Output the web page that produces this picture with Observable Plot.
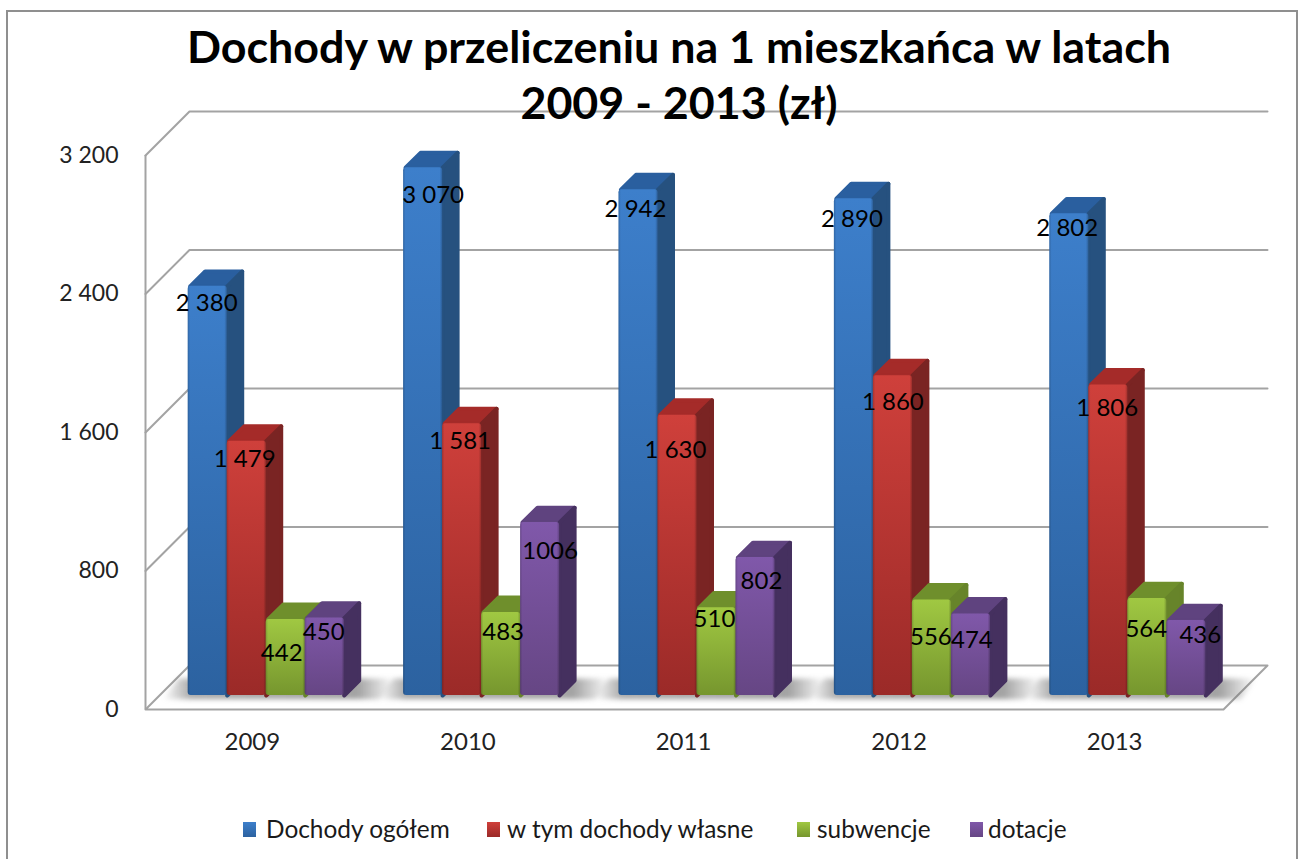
<!DOCTYPE html>
<html lang="pl"><head><meta charset="utf-8">
<script src="https://cdn.jsdelivr.net/npm/d3@7"></script>
<script src="https://cdn.jsdelivr.net/npm/@observablehq/plot@0.6"></script>
<style>
html,body{margin:0;padding:0;background:#fff;overflow:hidden;width:1298px;height:859px}
#wrap{position:relative;width:1298px;height:859px;overflow:hidden;font-family:Lato,sans-serif}
#wrap svg{position:absolute;left:0;top:0;background:transparent}
#border{position:absolute;left:6px;top:10px;width:1288px;height:900px;border:2px solid #8f8f8f}
#title{position:absolute;left:0;top:18px;width:1358px;text-align:center;font-weight:700;font-size:44.8px;line-height:56px;color:#000}
.lg{position:absolute;top:814px;font-size:24.4px;line-height:30px;color:#1a1a1a;white-space:nowrap}
.sw{position:absolute;top:822px;width:13px;height:15px}
</style></head><body>
<div id="wrap">
<div id="border"></div>
<div id="plot"></div>
<div id="title">Dochody w przeliczeniu na 1 mieszkańca w latach<br>2009 - 2013 (zł)</div>
<div id="legend"></div>
</div>
<script>
const years = [2009, 2010, 2011, 2012, 2013];
const seriesNames = ["Dochody ogółem", "w tym dochody własne", "subwencje", "dotacje"];
const total = [2380, 3070, 2942, 2890, 2802];
const own = [1479, 1581, 1630, 1860, 1806];
const subsidy = [442, 483, 510, 556, 564];
const grants = [450, 1006, 802, 474, 436];
const seriesValues = [total, own, subsidy, grants];
const yTicks = [0, 800, 1600, 2400, 3200];

// The labels were moved by hand in the original: nudges from the default spot (pixels).
const labelDown = [[17,28,20,21,15],[18,18,35,27,24],[34,20,12,38,31],[14,29,24,26,15]];
const labelRight = [[-1,10,-3,-2,-2],[-2,-2,-2,0,-1],[-4,2,-2,-1,-1],[-1,10,6,1,14]];

const groupStep = 5.523, groupStart = 1.095;   // in bar widths
const xMax = 28.77, wallX = 1.128, wallY = 254;  // oblique depth of the walls
const depthX = 0.385, depthY = 86;               // oblique depth of one bar
const baseY = 81, barK = 0.993;
const pxX = 39, pxY = 0.1731;
const fmt = d3.formatLocale({thousands:" ", grouping:[3], decimal:","}).format(",d");

const faces = [
  {front:"gBlue", side:"#26517f", top:"#2a5f9f"},
  {front:"gRed", side:"#7a2423", top:"#a52b29"},
  {front:"gGreen", side:"#67842a", top:"#6f8f2c"},
  {front:"gPurple", side:"#45305f", top:"#5f437f"}
];
const stops = {
  gBlue:["#3d7fcb","#2c62a0"], gRed:["#cf403b","#9b2a28"],
  gGreen:["#a0c842","#76962e"], gPurple:["#8058aa","#664684"]
};

function defsMark(){
  const g = d3.create("svg:g"), defs = g.append("defs");
  for (const [id,[a,b]] of Object.entries(stops)) {
    const lg = defs.append("linearGradient").attr("id",id).attr("x1",0).attr("x2",0).attr("y1",0).attr("y2",1);
    lg.append("stop").attr("offset",0).attr("stop-color",a);
    lg.append("stop").attr("offset",1).attr("stop-color",b);
  }
  const e = defs.append("linearGradient").attr("id","gEdge");
  [[0,0.18],[0.06,0],[0.94,0],[1,0.22]].forEach(([o,k]) =>
    e.append("stop").attr("offset",o).attr("stop-color","#000").attr("stop-opacity",k));
  const s = defs.append("linearGradient").attr("id","gShadow");
  [[0,0],[0.12,0.55],[0.84,0.6],[1,0]].forEach(([o,k]) =>
    s.append("stop").attr("offset",o).attr("stop-color","#666").attr("stop-opacity",k));
  return g.node();
}

const rows = years.flatMap((year,yi) => seriesValues.map((vals,si) => {
  const x0 = groupStart + groupStep*yi + si, v = vals[yi];
  return {year,yi,si,v,x0,x1:x0+1,top:baseY+v*barK,
    label: si===3 ? String(v) : fmt(v),
    lx: x0+0.5+labelRight[si][yi]/pxX,
    ly: baseY+v*0.994-labelDown[si][yi]/pxY};
}));

const wallPts = yTicks.flatMap(v => v===0
  ? [[0,0],[wallX,wallY],[xMax,wallY],[xMax-wallX,0],[0,0]].map(([x,y]) => ({level:v,x,y}))
  : [[0,v],[wallX,v+wallY],[xMax,v+wallY]].map(([x,y]) => ({level:v,x,y})));

const shadows = years.flatMap((year,yi) => {
  const a = groupStart+groupStep*yi-0.65, b = a+5.55;
  return [[a,baseY-22],[b,baseY-22],[b+0.4,baseY+98],[a+0.4,baseY+98]].map(([x,y]) => ({yi,x,y}));
});

const barMarks = rows.flatMap(r => {
  const f = faces[r.si];
  const top = [[r.x0+0.05,r.top],[r.x1,r.top],[r.x1+depthX,r.top+depthY],[r.x0+depthX+0.05,r.top+depthY],[r.x0+0.05,r.top]];
  const side = [[r.x1,baseY],[r.x1+depthX,baseY+depthY],[r.x1+depthX,r.top+depthY],[r.x1,r.top],[r.x1,baseY]];
  const poly = (pts,c) => Plot.line(pts,{x:"0",y:"1",fill:c,stroke:c,strokeWidth:4,strokeLinejoin:"round"});
  return [
    poly(top,f.top), poly(side,f.side),
    Plot.rect([r],{x1:"x0",x2:"x1",y1:()=>baseY,y2:"top",fill:"url(#"+f.front+")",rx:3}),
    Plot.rect([r],{x1:"x0",x2:"x1",y1:()=>baseY,y2:"top",fill:"url(#gEdge)",rx:3})
  ];
});

const chart = Plot.plot({
  width:1298, height:859,
  marginLeft:145, marginRight:31, marginTop:155, marginBottom:150,
  x:{domain:[0,xMax], axis:null},
  y:{domain:[0,3200], axis:null},
  style:{fontFamily:"Lato, sans-serif", background:"transparent", overflow:"visible"},
  marks:[
    defsMark,
    Plot.axisY({ticks:yTicks, tickFormat:fmt, tickSize:0, tickPadding:27, label:null, fontSize:23, fill:"#222"}),
    Plot.line(wallPts,{x:"x",y:"y",z:"level",stroke:"#a3a3a3",strokeWidth:2}),
    Plot.ruleX([0],{y1:0,y2:3200,stroke:"#a3a3a3",strokeWidth:2}),
    Plot.line(shadows,{x:"x",y:"y",z:"yi",fill:"url(#gShadow)",stroke:null,imageFilter:"blur(2.5px)"}),
    ...barMarks,
    Plot.text(years,{x:(d,i)=>(xMax-wallX)*(i+0.5)/5, y:()=>0, dx:-1, dy:33, text:String, fontSize:24, fill:"#222"}),
    Plot.text(rows,{x:"lx",y:"ly",text:"label",fontSize:24,fill:"#000"})
  ]
});
document.getElementById("plot").append(chart);

const legendPos = [[243,266],[487,507],[797,817],[970,988]];
const lg = document.getElementById("legend");
seriesNames.forEach((n,i) => {
  const [a,b] = stops[faces[i].front];
  const sw = document.createElement("div"); sw.className="sw";
  sw.style.left = legendPos[i][0]+"px"; sw.style.background = `linear-gradient(${a},${b})`;
  const t = document.createElement("div"); t.className="lg"; t.textContent = n;
  t.style.left = legendPos[i][1]+"px";
  lg.append(sw,t);
});
</script>
</body></html>
